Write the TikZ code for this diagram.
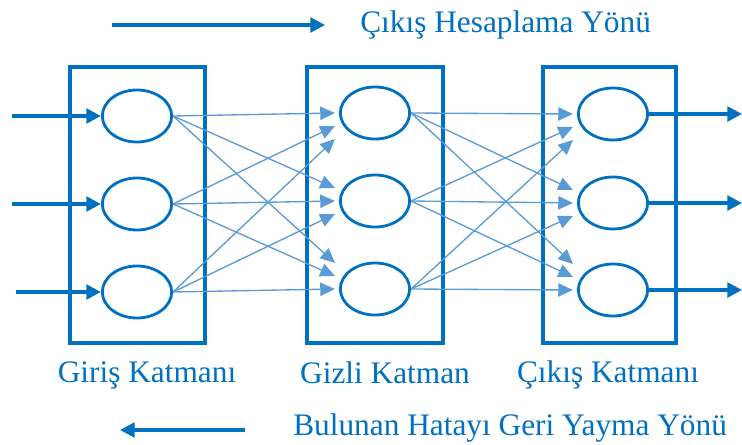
\documentclass[tikz,border=0pt]{standalone}
\usepackage{fontspec}
\setmainfont{Liberation Serif}
\usetikzlibrary{shapes.geometric,arrows.meta,calc}
\definecolor{katman}{RGB}{0,112,192}
\definecolor{baglanti}{RGB}{91,155,213}
\tikzset{
  noron/.style={draw=katman,ellipse,line width=2.1pt,minimum width=52pt,minimum height=39pt,inner sep=0pt},
  kutu/.style={draw=katman,line width=2.6pt},
  kalin/.style={draw=katman,line width=2.5pt,-{Triangle[length=11pt,width=11pt]}},
  ince/.style={draw=baglanti,line width=1pt,-{Triangle[length=11pt,width=10pt]}},
  yazi/.style={text=katman,font=\fontsize{23.5}{28}\selectfont,inner sep=0pt}
}

\begin{document}
\begin{tikzpicture}[x=0.75pt,y=-0.75pt]
   \useasboundingbox (0,0) rectangle (742,445);
   % katman kutulari
   \draw[kutu] (70,67) rectangle (205,343);
   \draw[kutu] (307,67) rectangle (443,343);
   \draw[kutu] (543,67) rectangle (676,343);
   % noronlar
   \node[noron] (i1) at (137,116) {};
   \node[noron] (i2) at (137,204) {};
   \node[noron] (i3) at (137,292) {};
   \node[noron] (h1) at (375,113) {};
   \node[noron] (h2) at (375,201) {};
   \node[noron] (h3) at (375,289) {};
   \node[noron] (o1) at (613,114) {};
   \node[noron] (o2) at (613,203) {};
   \node[noron] (o3) at (613,290) {};
   % girisler ve cikislar
   \coordinate (g1) at (12,116);
   \coordinate (g2) at (12,204);
   \coordinate (g3) at (16,292);
   \coordinate (c1) at (742,114);
   \coordinate (c2) at (742,203);
   \coordinate (c3) at (742,290);
   \draw[kalin] (g1) -- (i1.west);
   \draw[kalin] (g2) -- (i2.west);
   \draw[kalin] (g3) -- (i3.west);
   \draw[kalin] (o1.east) -- (c1);
   \draw[kalin] (o2.east) -- (c2);
   \draw[kalin] (o3.east) -- (c3);
   % baglantilar
   \foreach \k/\h in {i/h,h/o}{
     \foreach \a in {1,2,3}{
       \foreach \b in {1,2,3}{
         \draw[ince] (\k\a.east) -- ($(\h\b.west)+(-4,{13*(\a-\b)})$);
       }
     }
   }
   % yazilar
   \node[yazi] (l1) at (147,375) {Giriş Katmanı};
   \node[yazi] (l2) at (385,373) {Gizli Katman};
   \node[yazi] (l3) at (608,375) {Çıkış Katmanı};
   \node[yazi,anchor=west] (ileri) at (360,25) {Çıkış Hesaplama Yönü};
   \node[yazi,anchor=west] (geri) at (293,428) {Bulunan Hatayı Geri Yayma Yönü};
   % yon oklari
   \coordinate (u1) at (112,25);
   \coordinate (u2) at (325,25);
   \coordinate (a1) at (245,430);
   \coordinate (a2) at (120,430);
   \draw[kalin] (u1) -- (u2);
   \draw[kalin] (a1) -- (a2);
\end{tikzpicture}
\end{document}
